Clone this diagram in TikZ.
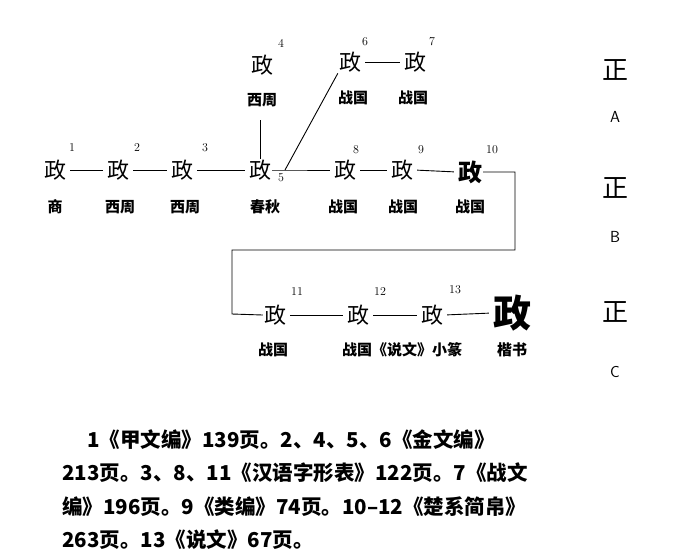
\documentclass[tikz,border=0pt]{standalone}
\usepackage{fontspec}
\newfontfamily\cjk{Noto Sans CJK SC}
\begin{document}
\begin{tikzpicture}[x=1pt,y=-1pt,
  gl/.style={font=\cjk\fontsize{22}{22}\selectfont,inner sep=1pt},
  lb/.style={font=\cjk\bfseries\fontsize{15}{15}\selectfont,inner sep=0pt},
  nm/.style={font=\fontsize{12}{12}\selectfont,inner sep=0pt},
  ln/.style={line width=0.9pt},
  gp/.style={ln,shorten <=3pt,shorten >=3pt}]
\useasboundingbox (0,0) rectangle (698,558);
% row 1
\node[gl] (g1) at (55,170) {政};
\node[gl] (g2) at (118,170) {政};
\node[gl] (g3) at (182,170) {政};
\node[gl] (g5) at (260,170) {政};
\node[gl] (g8) at (345,170) {政};
\node[gl] (g9) at (402,170) {政};
\node[gl,font=\cjk\bfseries\fontsize{24}{24}\selectfont] (g10) at (470,172) {政};
\node[gl] (g4) at (262,65) {政};
\node[gl] (g6) at (350,62) {政};
\node[gl] (g7) at (415,62) {政};
% labels
\node[lb] at (55,207) {商};
\node[lb] at (120,207) {西周};
\node[lb] at (185,207) {西周};
\node[lb] at (265,207) {春秋};
\node[lb] at (343,207) {战国};
\node[lb] at (403,207) {战国};
\node[lb] at (470,207) {战国};
\node[lb] at (262,100) {西周};
\node[lb] at (353,98) {战国};
\node[lb] at (413,98) {战国};
% numbers
\node[nm] at (72,148) {1};
\node[nm] at (137,148) {2};
\node[nm] at (205,148) {3};
\node[nm] at (281,43) {4};
\node[nm] at (281,178) {5};
\node[nm] at (365,42) {6};
\node[nm] at (432,42) {7};
\node[nm] at (356,150) {8};
\node[nm] at (421,150) {9};
\node[nm] at (492,150) {10};
% connectors row 1
\coordinate (j) at (285,170);
\coordinate (v) at (260,120);
\draw[gp] (g1.east) -- (g2.west);
\draw[gp] (g2.east) -- (g3.west);
\draw[gp] (g3.east) -- (g5.west);
\draw[ln] (g5.north) -- (v);
\draw[ln] (j) -- (g6.south west);
\draw[ln] (g5.east) -- (j) -- ([xshift=-3pt]g8.west);
\draw[gp] (g8.east) -- (g9.west);
\draw[gp] (g9.east) -- (g10.west);
\draw[gp] (g6.east) -- (g7.west);
% row 2
\node[gl] (g11) at (275,315) {政};
\node[gl] (g12) at (358,315) {政};
\node[gl] (g13) at (432,315) {政};
\node[font=\cjk\bfseries\fontsize{38}{38}\selectfont,inner sep=1pt] (gk) at (512,313) {政};
\draw[ln] (g10.east) -- (515,172) -- (515,250) -- (232,250) -- (232,314) -- (g11.west);
\draw[gp] (g11.east) -- (g12.west);
\draw[gp] (g12.east) -- (g13.west);
\draw[gp] (g13.east) -- (gk.west);
\node[lb] at (273,350) {战国};
\node[lb] at (402,350) {战国《说文》小篆};
\node[lb] at (512,350) {楷书};
\node[nm] at (297,292) {11};
\node[nm] at (380,292) {12};
\node[nm] at (455,290) {13};
% right
\node[gl,font=\cjk\fontsize{26}{26}\selectfont] (a) at (615,70) {正};
\node[font=\sffamily\fontsize{16}{16}\selectfont] at (615,117) {A};
\node[gl,font=\cjk\fontsize{26}{26}\selectfont] (b) at (615,188) {正};
\node[font=\sffamily\fontsize{16}{16}\selectfont] at (615,237) {B};
\node[gl,font=\cjk\fontsize{26}{26}\selectfont] (c) at (615,312) {正};
\node[font=\sffamily\fontsize{16}{16}\selectfont] at (615,372) {C};
% bottom text
\begin{scope}[every node/.style={anchor=west,font=\cjk\bfseries\fontsize{20.5}{20.5}\selectfont,inner sep=0pt}]
\node at (87,440) {1《甲文编》139页。2、4、5、6《金文编》};
\node at (62,473) {213页。3、8、11《汉语字形表》122页。7《战文};
\node at (62,507) {编》196页。9《类编》74页。10–12《楚系简帛》};
\node at (62,540) {263页。13《说文》67页。};
\end{scope}
\end{tikzpicture}
\end{document}
